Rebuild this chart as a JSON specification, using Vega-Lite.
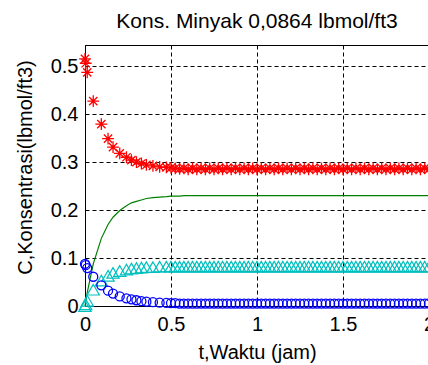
{
  "$schema": "https://vega.github.io/schema/vega-lite/v6.json",
  "width": 344,
  "height": 261,
  "autosize": {"type": "none"},
  "padding": {"left": 85, "top": 45, "right": 0, "bottom": 59},
  "background": "white",
  "title": {
    "text": "Kons. Minyak 0,0864 lbmol/ft3",
    "anchor": "middle",
    "offset": 13,
    "font": "Liberation Sans",
    "fontSize": 21,
    "fontWeight": "normal",
    "color": "black"
  },
  "data": {
    "values": [
      {"t": 0, "R": 0.515, "G": 0, "C": 0, "B": 0.088},
      {"t": 0.004, "R": 0.506, "G": 0.009, "C": 0.0035, "B": 0.085},
      {"t": 0.013, "R": 0.487, "G": 0.028, "C": 0.011, "B": 0.079},
      {"t": 0.048, "R": 0.427, "G": 0.088, "C": 0.034, "B": 0.061},
      {"t": 0.095, "R": 0.379, "G": 0.141, "C": 0.053, "B": 0.043},
      {"t": 0.134, "R": 0.349, "G": 0.17, "C": 0.063, "B": 0.032},
      {"t": 0.163, "R": 0.331, "G": 0.185, "C": 0.069, "B": 0.026},
      {"t": 0.202, "R": 0.318, "G": 0.199, "C": 0.073, "B": 0.02},
      {"t": 0.241, "R": 0.31, "G": 0.209, "C": 0.076, "B": 0.016},
      {"t": 0.27, "R": 0.304, "G": 0.215, "C": 0.078, "B": 0.014},
      {"t": 0.299, "R": 0.3, "G": 0.218, "C": 0.079, "B": 0.012},
      {"t": 0.328, "R": 0.297, "G": 0.221, "C": 0.08, "B": 0.01},
      {"t": 0.357, "R": 0.294, "G": 0.224, "C": 0.081, "B": 0.009},
      {"t": 0.395, "R": 0.292, "G": 0.226, "C": 0.081, "B": 0.008},
      {"t": 0.434, "R": 0.29, "G": 0.227, "C": 0.082, "B": 0.007},
      {"t": 0.473, "R": 0.289, "G": 0.228, "C": 0.082, "B": 0.0066},
      {"t": 0.5, "R": 0.288, "G": 0.229, "C": 0.082, "B": 0.006},
      {"t": 0.525, "R": 0.287, "G": 0.229, "C": 0.082, "B": 0.006},
      {"t": 0.55, "R": 0.286, "G": 0.229, "C": 0.082, "B": 0.005},
      {"t": 0.575, "R": 0.287, "G": 0.23, "C": 0.082, "B": 0.005},
      {"t": 0.6, "R": 0.285, "G": 0.23, "C": 0.082, "B": 0.005},
      {"t": 0.625, "R": 0.287, "G": 0.23, "C": 0.082, "B": 0.005},
      {"t": 0.65, "R": 0.285, "G": 0.23, "C": 0.082, "B": 0.005},
      {"t": 0.675, "R": 0.287, "G": 0.23, "C": 0.082, "B": 0.005},
      {"t": 0.7, "R": 0.285, "G": 0.23, "C": 0.082, "B": 0.005},
      {"t": 0.725, "R": 0.287, "G": 0.23, "C": 0.082, "B": 0.005},
      {"t": 0.75, "R": 0.285, "G": 0.23, "C": 0.082, "B": 0.005},
      {"t": 0.775, "R": 0.287, "G": 0.23, "C": 0.082, "B": 0.005},
      {"t": 0.8, "R": 0.285, "G": 0.23, "C": 0.082, "B": 0.005},
      {"t": 0.825, "R": 0.287, "G": 0.23, "C": 0.082, "B": 0.005},
      {"t": 0.85, "R": 0.285, "G": 0.23, "C": 0.082, "B": 0.005},
      {"t": 0.875, "R": 0.287, "G": 0.23, "C": 0.082, "B": 0.005},
      {"t": 0.9, "R": 0.285, "G": 0.23, "C": 0.082, "B": 0.005},
      {"t": 0.925, "R": 0.287, "G": 0.23, "C": 0.082, "B": 0.005},
      {"t": 0.95, "R": 0.285, "G": 0.23, "C": 0.082, "B": 0.005},
      {"t": 0.975, "R": 0.287, "G": 0.23, "C": 0.082, "B": 0.005},
      {"t": 1.0, "R": 0.285, "G": 0.23, "C": 0.082, "B": 0.005},
      {"t": 1.025, "R": 0.287, "G": 0.23, "C": 0.082, "B": 0.005},
      {"t": 1.05, "R": 0.285, "G": 0.23, "C": 0.082, "B": 0.005},
      {"t": 1.075, "R": 0.287, "G": 0.23, "C": 0.082, "B": 0.005},
      {"t": 1.1, "R": 0.285, "G": 0.23, "C": 0.082, "B": 0.005},
      {"t": 1.125, "R": 0.287, "G": 0.23, "C": 0.082, "B": 0.005},
      {"t": 1.15, "R": 0.285, "G": 0.23, "C": 0.082, "B": 0.005},
      {"t": 1.175, "R": 0.287, "G": 0.23, "C": 0.082, "B": 0.005},
      {"t": 1.2, "R": 0.285, "G": 0.23, "C": 0.082, "B": 0.005},
      {"t": 1.225, "R": 0.287, "G": 0.23, "C": 0.082, "B": 0.005},
      {"t": 1.25, "R": 0.285, "G": 0.23, "C": 0.082, "B": 0.005},
      {"t": 1.275, "R": 0.287, "G": 0.23, "C": 0.082, "B": 0.005},
      {"t": 1.3, "R": 0.285, "G": 0.23, "C": 0.082, "B": 0.005},
      {"t": 1.325, "R": 0.287, "G": 0.23, "C": 0.082, "B": 0.005},
      {"t": 1.35, "R": 0.285, "G": 0.23, "C": 0.082, "B": 0.005},
      {"t": 1.375, "R": 0.287, "G": 0.23, "C": 0.082, "B": 0.005},
      {"t": 1.4, "R": 0.285, "G": 0.23, "C": 0.082, "B": 0.005},
      {"t": 1.425, "R": 0.287, "G": 0.23, "C": 0.082, "B": 0.005},
      {"t": 1.45, "R": 0.285, "G": 0.23, "C": 0.082, "B": 0.005},
      {"t": 1.475, "R": 0.287, "G": 0.23, "C": 0.082, "B": 0.005},
      {"t": 1.5, "R": 0.285, "G": 0.23, "C": 0.082, "B": 0.005},
      {"t": 1.525, "R": 0.287, "G": 0.23, "C": 0.082, "B": 0.005},
      {"t": 1.55, "R": 0.285, "G": 0.23, "C": 0.082, "B": 0.005},
      {"t": 1.575, "R": 0.287, "G": 0.23, "C": 0.082, "B": 0.005},
      {"t": 1.6, "R": 0.285, "G": 0.23, "C": 0.082, "B": 0.005},
      {"t": 1.625, "R": 0.287, "G": 0.23, "C": 0.082, "B": 0.005},
      {"t": 1.65, "R": 0.285, "G": 0.23, "C": 0.082, "B": 0.005},
      {"t": 1.675, "R": 0.287, "G": 0.23, "C": 0.082, "B": 0.005},
      {"t": 1.7, "R": 0.285, "G": 0.23, "C": 0.082, "B": 0.005},
      {"t": 1.725, "R": 0.287, "G": 0.23, "C": 0.082, "B": 0.005},
      {"t": 1.75, "R": 0.285, "G": 0.23, "C": 0.082, "B": 0.005},
      {"t": 1.775, "R": 0.287, "G": 0.23, "C": 0.082, "B": 0.005},
      {"t": 1.8, "R": 0.285, "G": 0.23, "C": 0.082, "B": 0.005},
      {"t": 1.825, "R": 0.287, "G": 0.23, "C": 0.082, "B": 0.005},
      {"t": 1.85, "R": 0.285, "G": 0.23, "C": 0.082, "B": 0.005},
      {"t": 1.875, "R": 0.287, "G": 0.23, "C": 0.082, "B": 0.005},
      {"t": 1.9, "R": 0.285, "G": 0.23, "C": 0.082, "B": 0.005},
      {"t": 1.925, "R": 0.287, "G": 0.23, "C": 0.082, "B": 0.005},
      {"t": 1.95, "R": 0.285, "G": 0.23, "C": 0.082, "B": 0.005},
      {"t": 1.975, "R": 0.287, "G": 0.23, "C": 0.082, "B": 0.005},
      {"t": 2.0, "R": 0.285, "G": 0.23, "C": 0.082, "B": 0.005}
    ]
  },
  "encoding": {
    "x": {
      "field": "t",
      "type": "quantitative",
      "title": "t,Waktu (jam)",
      "scale": {"domain": [0, 2], "nice": false, "zero": false},
      "axis": {"values": [0, 0.5, 1, 1.5, 2], "format": "~g"}
    }
  },
  "layer": [
    {
      "mark": {"type": "line", "color": "#008000", "strokeWidth": 1.2},
      "encoding": {
        "y": {"field": "G", "type": "quantitative", "title": "C,Konsentrasi(lbmol/ft3)",
              "scale": {"domain": [0, 0.544], "nice": false},
              "axis": {"values": [0, 0.1, 0.2, 0.3, 0.4, 0.5], "format": "~g"}}
      }
    },
    {
      "mark": {"type": "point", "shape": "M-1,0L1,0M0,-1L0,1M-0.7,-0.7L0.7,0.7M-0.7,0.7L0.7,-0.7", "filled": false, "color": "#FF0000", "size": 140, "strokeWidth": 1.3, "opacity": 1},
      "encoding": {
        "y": {"field": "R", "type": "quantitative", "title": "C,Konsentrasi(lbmol/ft3)"}
      }
    },
    {
      "mark": {"type": "point", "shape": "triangle-up", "filled": false, "color": "#00BFBF", "size": 150, "strokeWidth": 1.2, "opacity": 1},
      "encoding": {
        "y": {"field": "C", "type": "quantitative", "title": "C,Konsentrasi(lbmol/ft3)"}
      }
    },
    {
      "mark": {"type": "point", "shape": "circle", "filled": false, "color": "#0000FF", "size": 81, "strokeWidth": 1.3, "opacity": 1},
      "encoding": {
        "y": {"field": "B", "type": "quantitative", "title": "C,Konsentrasi(lbmol/ft3)"}
      }
    }
  ],
  "config": {
    "view": {"stroke": "black", "strokeWidth": 1},
    "axis": {
      "domainColor": "black",
      "domainWidth": 1,
      "grid": true,
      "gridColor": "black",
      "gridOpacity": 1,
      "gridDash": [4, 3],
      "gridWidth": 1,
      "ticks": false,
      "labelFont": "Liberation Sans",
      "labelFontSize": 20,
      "labelColor": "black",
      "titleFont": "Liberation Sans",
      "titleFontSize": 20,
      "titleFontWeight": "normal",
      "titleColor": "black"
    },
    "axisX": {"labelPadding": 8, "titleX": 172, "titleY": 52, "titleBaseline": "alphabetic", "labelFlush": false},
    "axisY": {"labelPadding": 7, "titleX": -54, "titleY": 122, "titleBaseline": "alphabetic", "labelFlush": false}
  }
}
